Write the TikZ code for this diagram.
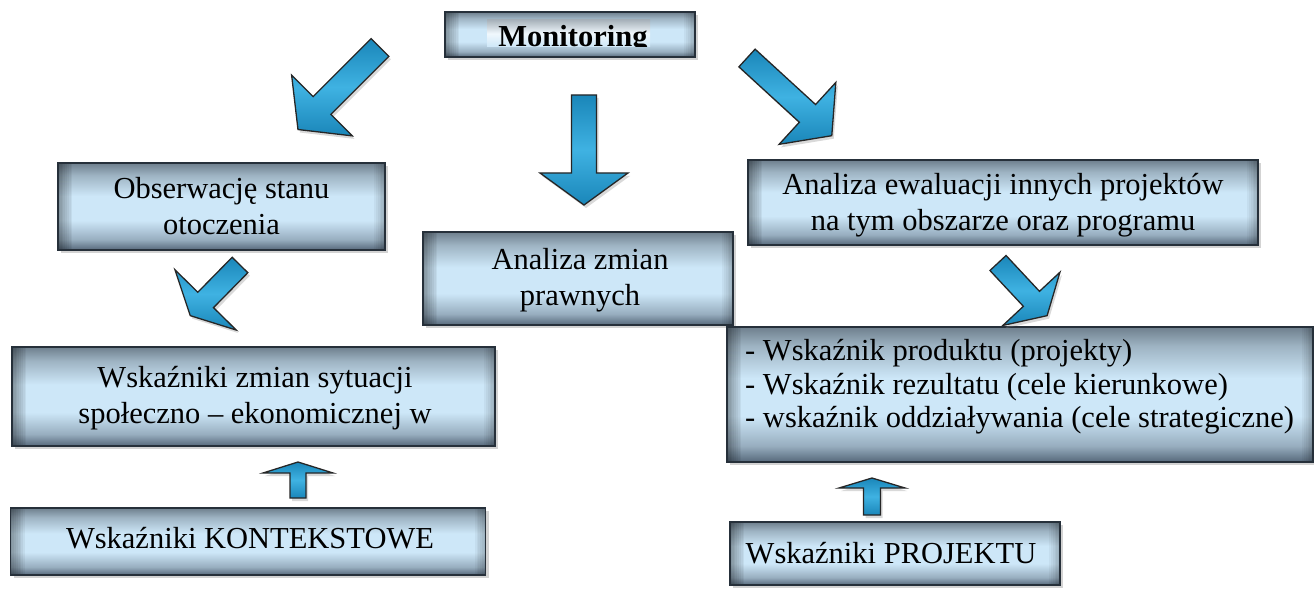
\documentclass[tikz,border=0pt]{standalone}
\usepackage{fontspec}
\setmainfont{Liberation Serif}
\usetikzlibrary{shadows}

\definecolor{boxedge}{HTML}{26303A}
\definecolor{boxtop}{HTML}{6E7F8D}
\definecolor{boxmid}{HTML}{CDE7F8}
\definecolor{boxbot}{HTML}{56687A}
\definecolor{arrowlight}{HTML}{3FB2E2}
\definecolor{arrowdark}{HTML}{1A86B9}

% bevelled panel fill: darker rim at top and bottom, pale blue body
\pgfdeclareverticalshading{panelfill}{100bp}{%
  color(0bp)=(boxbot); color(25bp)=(boxbot); color(31bp)=(boxbot!45!boxmid);
  color(42bp)=(boxmid); color(56bp)=(boxmid); color(68bp)=(boxtop!50!boxmid);
  color(75bp)=(boxtop); color(100bp)=(boxtop)}

\tikzset{
  panel/.style={draw=boxedge, line width=1.6pt, shading=panelfill,
    drop shadow={shadow xshift=3pt, shadow yshift=-3pt, opacity=0.35},
    inner sep=0pt,
    path picture={
      % soft dark bands along the left and right sides
      \foreach \k in {1,...,8}{
        \fill[black, opacity=0.05]
          (path picture bounding box.south west) rectangle
          ([xshift=\k*1.8pt]path picture bounding box.north west);}
      \foreach \k in {1,...,6}{
        \fill[black, opacity=0.04]
          ([xshift=-\k*1.8pt]path picture bounding box.south east) rectangle
          (path picture bounding box.north east);}}},
  caption/.style={font=\fontsize{30.5}{36}\selectfont, align=center, inner sep=0pt},
  blockarrow/.style={draw=black!85, line width=1.3pt, line join=miter,
    top color=arrowdark, bottom color=arrowdark, middle color=arrowlight,
    drop shadow={shadow xshift=2pt, shadow yshift=-3pt, opacity=0.3}},
}

% block arrow: tail centre (#1,#2), direction #3, length #4,
% shaft half-width #5, head half-width #6, head length #7
\newcommand\blockarr[7]{%
  \begin{scope}[shift={(#1,#2)}, rotate=#3]
    \path[blockarrow] (0,-#5) -- ({#4-#7},-#5) -- ({#4-#7},-#6) -- (#4,0)
      -- ({#4-#7},#6) -- ({#4-#7},#5) -- (0,#5) -- cycle;
  \end{scope}}

\begin{document}
\begin{tikzpicture}[x=1pt, y=-1pt]
\useasboundingbox (0,0) rectangle (1314,593);

% top box with its clipped title strip
\node[panel, minimum width=250pt, minimum height=45pt] (mon) at (570,34.5) {};
\begin{scope}
  \clip (487,20) rectangle (650,47);
  \fill[top color=boxtop!60!white, bottom color=boxmid, middle color=white!70!boxmid] (487,20) rectangle (650,47);
  \node[anchor=base, font=\fontsize{30.5}{36}\selectfont\bfseries, inner sep=0pt] (montext) at (573,47) {Monitoring};
\end{scope}

% panels
\node[panel, minimum width=327pt, minimum height=87pt] (obs) at (221.5,206.5) {};
\node[panel, minimum width=310pt, minimum height=93pt] (praw) at (578,278.5) {};
\node[panel, minimum width=510pt, minimum height=85pt] (ewal) at (1003,202.5) {};
\node[panel, minimum width=483pt, minimum height=99pt] (zmian) at (253.5,396.5) {};
\node[panel, minimum width=586pt, minimum height=135pt] (wsk) at (1020,394.5) {};
\node[panel, minimum width=475pt, minimum height=67pt] (kont) at (248,541.5) {};
\node[panel, minimum width=330pt, minimum height=63pt] (proj) at (895,553.5) {};

% panel texts
\node[caption] (obs-t) at (221.5,206) {Obserwację stanu\\otoczenia};
\node[caption] (praw-t) at (580,280) {Analiza zmian\\prawnych};
\node[caption] (ewal-t) at (1003,205.5) {Analiza ewaluacji innych projektów\\na tym obszarze oraz programu};
\node[caption] (zmian-t) at (255,398) {Wskaźniki zmian sytuacji\\społeczno – ekonomicznej w};
\node[caption, align=left, anchor=west, font=\fontsize{30.5}{33.5}\selectfont] (wsk-t) at (745,387)
  {- Wskaźnik produktu (projekty)\\- Wskaźnik rezultatu (cele kierunkowe)\\- wskaźnik oddziaływania (cele strategiczne)};
\node[caption] (kont-t) at (250,538) {Wskaźniki KONTEKSTOWE};
\node[caption] (proj-t) at (891,553) {Wskaźniki PROJEKTU};

% arrows
\blockarr{380}{47.5}{225}{116}{12.5}{43}{34}
\blockarr{584}{95}{270}{110}{12.5}{44}{32}
\blockarr{747}{58}{-42.5}{115}{12}{42}{33}
\blockarr{240}{265}{225.5}{71}{11}{43}{22}
\blockarr{998}{263}{-47}{72}{11}{39}{23}
\blockarr{298}{498}{90}{36}{8}{35}{11}
\blockarr{872}{515}{90}{37}{8.5}{33}{10}
\end{tikzpicture}
\end{document}
